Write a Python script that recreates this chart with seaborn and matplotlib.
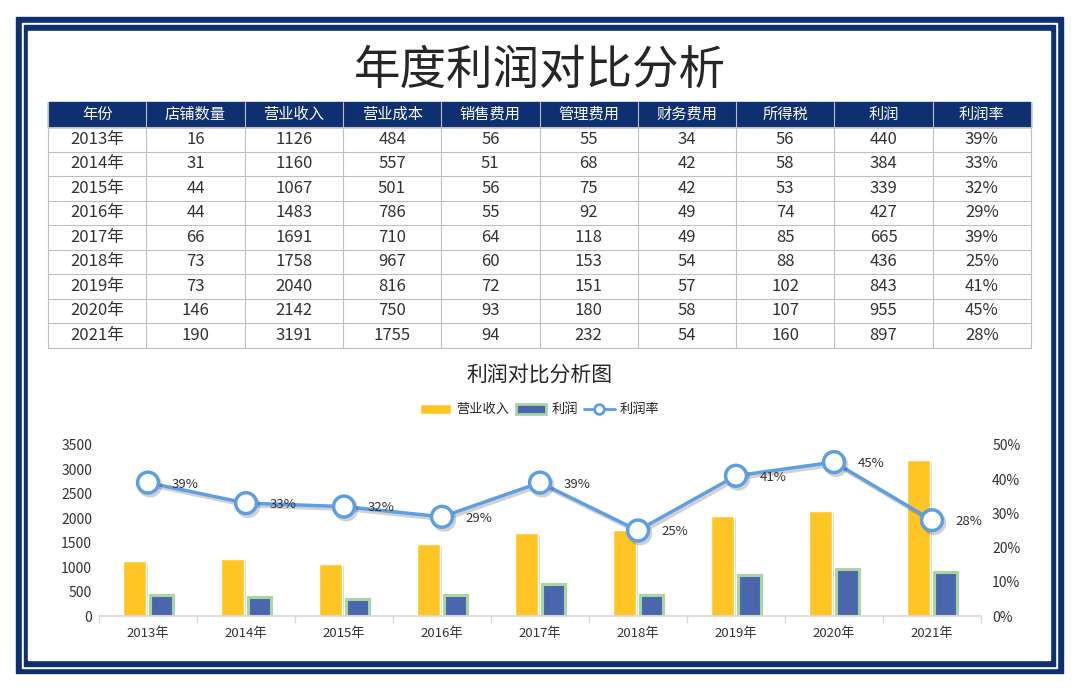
import numpy as np
import pandas as pd
import seaborn as sns
import matplotlib
matplotlib.use("Agg")
import matplotlib.pyplot as plt
import matplotlib.patheffects as pe
from matplotlib.patches import Rectangle, Patch
from matplotlib.lines import Line2D

sns.set_theme(style="white")
plt.rcParams['font.family'] = ['Noto Sans CJK SC', 'DejaVu Sans']
plt.rcParams['axes.unicode_minus'] = False

# 数据
years = ['2013年', '2014年', '2015年', '2016年', '2017年', '2018年', '2019年', '2020年', '2021年']
stores = [16, 31, 44, 44, 66, 73, 73, 146, 190]
revenue = [1126, 1160, 1067, 1483, 1691, 1758, 2040, 2142, 3191]
cost = [484, 557, 501, 786, 710, 967, 816, 750, 1755]
sales_exp = [56, 51, 56, 55, 64, 60, 72, 93, 94]
admin_exp = [55, 68, 75, 92, 118, 153, 151, 180, 232]
fin_exp = [34, 42, 42, 49, 49, 54, 57, 58, 54]
tax = [56, 58, 53, 74, 85, 88, 102, 107, 160]
profit = [440, 384, 339, 427, 665, 436, 843, 955, 897]
rate = [39, 33, 32, 29, 39, 25, 41, 45, 28]

headers = ['年份', '店铺数量', '营业收入', '营业成本', '销售费用', '管理费用', '财务费用', '所得税', '利润', '利润率']

navy = '#0E3070'
yellow = '#FEC524'
blue = '#4A67AE'
green = '#A9D6A0'
line_c = '#5E9FE4'
txt = '#333333'

fig = plt.figure(figsize=(10.8, 6.91), dpi=100)

# 背景边框 (像素坐标)
bg = fig.add_axes([0, 0, 1, 1])
bg.set_xlim(0, 1080)
bg.set_ylim(691, 0)
bg.axis('off')
bg.add_patch(Rectangle((16, 17), 1047, 656, color=navy, zorder=0))
bg.add_patch(Rectangle((22, 23), 1035, 645, color='white', zorder=0))
bg.add_patch(Rectangle((24, 25), 1031, 641, color=navy, zorder=0))
bg.add_patch(Rectangle((28, 31), 1022, 629, color='white', zorder=0))

bg.text(540, 71, '年度利润对比分析', ha='center', va='center', fontsize=33.5, color='#262626')

# 表格
x0, x1 = 48, 1031
cw = (x1 - x0) / len(headers)
hy0, hy1 = 102, 127
rh = 24.5
bg.add_patch(Rectangle((x0, hy0), x1 - x0, hy1 - hy0, color=navy, zorder=1))
for j, h in enumerate(headers):
    bg.text(x0 + cw * (j + 0.5), (hy0 + hy1) / 2, h, ha='center', va='center',
            fontsize=11, color='white', zorder=3)

rows = list(zip(years, stores, revenue, cost, sales_exp, admin_exp, fin_exp, tax, profit,
                [f'{r}%' for r in rate]))
for i, row in enumerate(rows):
    yc = hy1 + rh * (i + 0.5)
    for j, v in enumerate(row):
        bg.text(x0 + cw * (j + 0.5), yc, str(v), ha='center', va='center',
                fontsize=12, color=txt, zorder=3)

ybot = hy1 + rh * len(rows)
for i in range(len(rows) + 1):
    bg.plot([x0, x1], [hy1 + rh * i, hy1 + rh * i], color='#BFBFBF', lw=0.8, zorder=2)
for j in range(len(headers) + 1):
    bg.plot([x0 + cw * j] * 2, [hy0, ybot], color='#BFBFBF', lw=0.8, zorder=2)

bg.text(540, 375, '利润对比分析图', ha='center', va='center', fontsize=15,
        color='#262626')

# 图表
ax = fig.add_axes([99 / 1080, 1 - 616 / 691, 882 / 1080, 171 / 691])
df = pd.DataFrame({'年份': years * 2,
                   '项目': ['营业收入'] * len(years) + ['利润'] * len(years),
                   '金额': revenue + profit})
sns.barplot(data=df, x='年份', y='金额', hue='项目', palette=[yellow, blue],
            width=0.55, gap=0.15, saturation=1, legend=False, ax=ax)
for p in ax.containers[1]:
    p.set_edgecolor(green)
    p.set_linewidth(2.2)
for p in ax.patches:
    p.set_path_effects([pe.withSimplePatchShadow(offset=(1.5, -1.5), shadow_rgbFace='#777777', alpha=0.3)])

ax.set_ylim(0, 3500)
ax.set_yticks(np.arange(0, 3501, 500))
ax.set_xlim(-0.5, 8.5)
ax.set_xlabel('')
ax.set_ylabel('')
for s in ['top', 'left', 'right']:
    ax.spines[s].set_visible(False)
ax.spines['bottom'].set_color('#D9D9D9')
ax.set_xticks(np.arange(-0.5, 9, 1), minor=True)
ax.tick_params(axis='x', which='major', length=0, pad=8, labelsize=9.5, labelcolor=txt)
ax.tick_params(axis='x', which='minor', length=5, color='#D9D9D9', direction='out', bottom=True)
ax.tick_params(axis='y', length=0, pad=5, labelsize=10, labelcolor=txt)

ax2 = ax.twinx()
sns.pointplot(x=years, y=rate, color=line_c, markers='o', linewidth=2.5,
              errorbar=None, ax=ax2)
for ln in ax2.lines:
    ln.set_markerfacecolor('white')
    ln.set_markeredgecolor(line_c)
    ln.set_markersize(15)
    ln.set_markeredgewidth(2.5)
    ln.set_path_effects([pe.SimpleLineShadow(offset=(1.5, -2), alpha=0.2), pe.Normal()])
ax2.set_ylim(0, 50)
ax2.set_yticks(np.arange(0, 51, 10))
ax2.set_yticklabels([f'{v}%' for v in range(0, 51, 10)])
ax2.set_xlim(-0.5, 8.5)
ax2.set_ylabel('')
for s in ['top', 'left', 'right', 'bottom']:
    ax2.spines[s].set_visible(False)
ax2.tick_params(axis='y', length=0, pad=8, labelsize=10, labelcolor=txt)
for i, r in enumerate(rate):
    ax2.annotate(f'{r}%', (i, r), xytext=(17, -1), textcoords='offset points',
                 ha='left', va='center', fontsize=9.5, color=txt)

handles = [Patch(facecolor=yellow),
           Patch(facecolor=blue, edgecolor=green, linewidth=2),
           Line2D([], [], color=line_c, lw=2, marker='o', markersize=7,
                  markerfacecolor='white', markeredgewidth=2)]
fig.legend(handles, ['营业收入', '利润', '利润率'], loc='center',
           bbox_to_anchor=(0.5, 1 - 410 / 691), ncol=3, frameon=False, fontsize=9.5,
           handlelength=2.3, handletextpad=0.4, columnspacing=0.5)

fig.savefig('out.png', dpi=100)
